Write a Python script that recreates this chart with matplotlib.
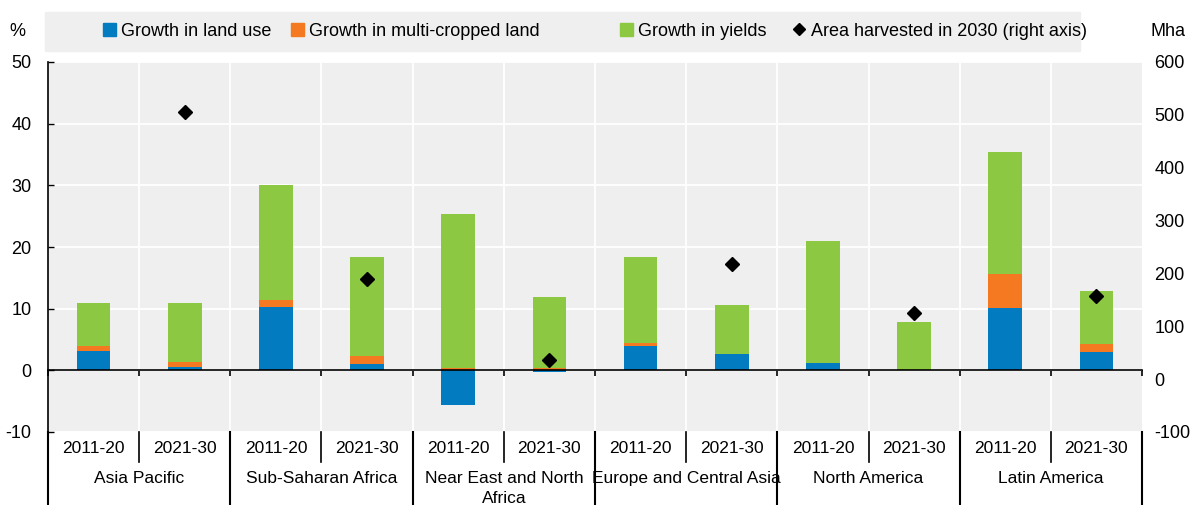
import matplotlib
matplotlib.use('Agg')
import numpy as np
import matplotlib.pyplot as plt
import matplotlib.transforms as mtransforms
from matplotlib.lines import Line2D
from matplotlib.patches import Patch

regions = ['Asia Pacific', 'Sub-Saharan Africa', 'Near East and North\nAfrica',
           'Europe and Central Asia', 'North America', 'Latin America']
periods = ['2011-20', '2021-30']

# growth components, % (two bars per region)
land_use = [3.1, 0.6, 10.3, 1.0, -5.6, -0.3, 3.95, 2.65, 1.2, 0.0, 10.1, 3.0]
multi_crop = [0.9, 0.8, 1.1, 1.4, 0.45, 0.3, 0.55, 0.0, 0.0, 0.0, 5.5, 1.3]
yields = [7.0, 9.6, 18.6, 15.9, 24.85, 11.55, 13.8, 7.9, 19.7, 7.9, 19.8, 8.5]
# area harvested in 2030, Mha (2021-30 bars only)
area_2030 = [505, 190, 36, 218, 126, 158]

c_blue = '#037bc1'
c_orange = '#f47920'
c_green = '#8cc841'
c_bg = '#efefef'

plt.rcParams['font.family'] = ['Liberation Sans', 'DejaVu Sans']
fs = 12.5

fig = plt.figure(figsize=(11.92, 5.05), dpi=100)
ax = fig.add_axes([48/1192, 73/505, 1094/1192, 370/505])
ax.set_facecolor(c_bg)

n = len(land_use)
x = np.arange(n)
w = 0.37
lu = np.array(land_use)
mc = np.array(multi_crop)
yl = np.array(yields)
pos_base = np.where(lu > 0, lu, 0)
ax.bar(x, lu, w, color=c_blue, zorder=3)
ax.bar(x, mc, w, bottom=pos_base, color=c_orange, zorder=3)
ax.bar(x, yl, w, bottom=pos_base + mc, color=c_green, zorder=3)

ax.set_xlim(-0.5, n - 0.5)
ax.set_ylim(-10, 50)
ax.set_yticks(np.arange(-10, 51, 10))
ax.set_yticklabels([str(v) for v in range(-10, 51, 10)], fontsize=fs + 0.5)
ax.tick_params(axis='y', direction='in', length=4, pad=12, width=1)
ax.grid(axis='y', color='white', lw=1.3, zorder=1)
for b in np.arange(0.5, n - 0.5, 1):
    ax.axvline(b, color='white', lw=1.3, zorder=1)

# zero axis with category ticks
ax.spines['bottom'].set_position(('data', 0))
ax.spines['bottom'].set_zorder(4)
ax.spines['bottom'].set_linewidth(1.2)
ax.set_xticks(np.arange(-0.5, n, 1))
ax.set_xticklabels([])
ax.tick_params(axis='x', direction='out', length=4, width=1.2)
for s in ['top', 'right']:
    ax.spines[s].set_visible(False)
ax.spines['left'].set_linewidth(1.2)

# right axis
ax2 = ax.twinx()
ax2.set_ylim(-100, 600)
ax2.set_yticks(np.arange(-100, 601, 100))
ax2.set_yticklabels([str(v) for v in range(-100, 601, 100)], fontsize=fs + 0.5)
ax2.tick_params(axis='y', length=0, pad=9)
for s in ax2.spines.values():
    s.set_visible(False)
ax2.plot(x[1::2], area_2030, 'D', color='black', markersize=7.5, zorder=5)

# category labels below the plot
trans = mtransforms.blended_transform_factory(ax.transData, ax.transAxes)
for i in range(n):
    ax.text(x[i], -0.045, periods[i % 2], transform=trans, ha='center', va='center', fontsize=fs)
for g, name in enumerate(regions):
    ax.text(2 * g + 0.5, -0.105, name, transform=trans, ha='center', va='top',
            fontsize=fs, linespacing=1.4)
for i in range(0, n - 1, 2):
    b = i + 0.5
    ax.plot([b, b], [0, -0.082], transform=trans, color='black', lw=1.2, clip_on=False)
for b in np.arange(-0.5, n, 2):
    ax.plot([b, b], [0, -0.2], transform=trans, color='black', lw=1.5, clip_on=False)

# unit labels
fig.text(17/1192, 1 - 31/505, '%', fontsize=fs + 0.5, ha='center', va='center')
fig.text(1168/1192, 1 - 32/505, 'Mha', fontsize=fs + 0.5, ha='center', va='center')

# legend band
band = plt.Rectangle((45/1192, 1 - 51/505), (1080 - 45)/1192, 39/505,
                     transform=fig.transFigure, color=c_bg, zorder=0)
fig.patches.append(band)
handles = [Patch(color=c_blue, label='Growth in land use'),
           Patch(color=c_orange, label='Growth in multi-cropped land'),
           Patch(color=c_green, label='Growth in yields'),
           Line2D([], [], marker='D', color='black', ls='none', markersize=6,
                  label='Area harvested in 2030 (right axis)')]
leg_x = [103, 291, 620, 793]
for h, lx in zip(handles, leg_x):
    leg = fig.legend(handles=[h], loc='center left', bbox_to_anchor=(lx/1192, 1 - 31/505),
                     frameon=False, fontsize=fs + 0.5, handlelength=0.7, handleheight=0.7,
                     handletextpad=0.3, borderpad=0, borderaxespad=0)

plt.savefig('out.png', dpi=100)
